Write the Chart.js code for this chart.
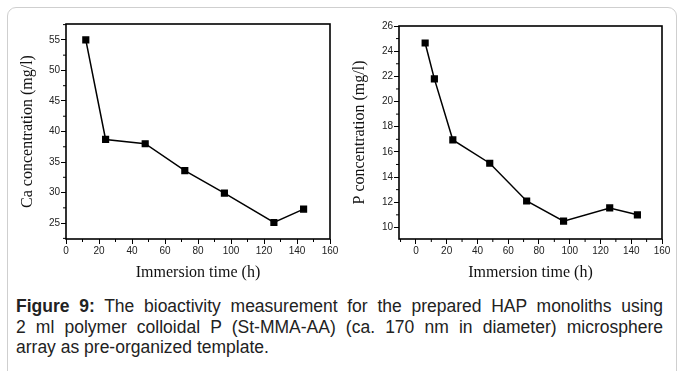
<!DOCTYPE html>
<html>
<head>
<meta charset="utf-8">
<script src="https://cdn.jsdelivr.net/npm/chart.js@4"></script>
<style>
  body { margin: 0; background: #fff; width: 681px; height: 371px; overflow: hidden; position: relative; }
  #panel { position: absolute; left: 7px; top: 7px; width: 668px; height: 372px; border: 1px solid #cfcfcf; border-radius: 9px; }
  #c1 { position: absolute; left: 0; top: 0; }
  #c2 { position: absolute; left: 340px; top: 0; }
  #caption { position: absolute; left: 16px; top: 296px; width: 647px; font: 17.5px "Liberation Sans", Arial, sans-serif;
             line-height: 20.7px; color: #222; }
  #caption div { white-space: nowrap; }
  #caption .j { text-align: justify; text-align-last: justify; }
</style>
</head>
<body>
<div id="panel"></div>
<canvas id="c1" width="340" height="290"></canvas>
<canvas id="c2" width="341" height="290"></canvas>
<div id="caption">
  <div class="j"><b>Figure 9:</b> The bioactivity measurement for the prepared HAP monoliths using</div>
  <div class="j">2 ml polymer colloidal P (St-MMA-AA) (ca. 170 nm in diameter) microsphere</div>
  <div>array as pre-organized template.</div>
</div>
<script>
// Ca panel
var timeCa = [12, 24, 48, 72, 96, 126, 144];
var caValues = [55, 38.7, 38, 33.6, 29.9, 25.1, 27.3];
var caYTicks = [25, 30, 35, 40, 45, 50, 55];
var caXTicks = [0, 20, 40, 60, 80, 100, 120, 140, 160];

// P panel
var timeP = [6, 12, 24, 48, 72, 96, 126, 144];
var pValues = [24.65, 21.8, 16.95, 15.1, 12.1, 10.5, 11.55, 11.0];
var pYTicks = [10, 12, 14, 16, 18, 20, 22, 24, 26];
var pXTicks = [0, 20, 40, 60, 80, 100, 120, 140, 160];

var serif = "'Liberation Serif', 'Times New Roman', serif";
var sans = "'Liberation Sans', Arial, sans-serif";

// frame + short minor ticks
var framePlugin = {
  id: 'frame',
  afterDraw: function (chart) {
    var ctx = chart.ctx, a = chart.chartArea;
    ctx.save();
    ctx.strokeStyle = '#000';
    ctx.lineWidth = 1;
    ['x', 'y'].forEach(function (id) {
      var s = chart.scales[id];
      var vals = s.ticks.map(function (t) { return t.value; });
      var step = vals[1] - vals[0];
      for (var v = vals[0] - step / 2; v <= s.max; v += step) {
        if (v < s.min) continue;
        var p = s.getPixelForValue(v);
        ctx.beginPath();
        if (id === 'x') { ctx.moveTo(p, a.bottom); ctx.lineTo(p, a.bottom + 3); }
        else { ctx.moveTo(a.left, p); ctx.lineTo(a.left - 3, p); }
        ctx.stroke();
      }
    });
    ctx.lineWidth = 1.6;
    ctx.strokeRect(a.left, a.top, a.right - a.left, a.bottom - a.top);
    ctx.restore();
  }
};

function makeChart(id, xs, ys, xTicks, yTicks, xMin, xMax, yMin, yMax, yTitle, pad, yWidth) {
  var pts = xs.map(function (x, i) { return {x: x, y: ys[i]}; });
  return new Chart(id, {
    type: 'scatter',
    data: {
      datasets: [{
        data: pts,
        showLine: true,
        borderColor: '#000',
        backgroundColor: '#000',
        borderWidth: 1.5,
        pointStyle: 'rect',
        pointRadius: 4,
        pointHoverRadius: 4
      }]
    },
    options: {
      responsive: false,
      animation: false,
      layout: {padding: pad},
      plugins: {legend: {display: false}, tooltip: {enabled: false}},
      scales: {
        x: {
          type: 'linear', min: xMin, max: xMax,
          afterBuildTicks: function (s) { s.ticks = xTicks.map(function (v) { return {value: v}; }); },
          afterFit: function (s) { s.height = 51; },
          grid: {drawOnChartArea: false, tickLength: 5, color: '#000'},
          border: {display: false},
          ticks: {padding: 1, color: '#222', font: {family: sans, size: 10}, maxRotation: 0},
          title: {display: true, text: 'Immersion time (h)', color: '#111', font: {family: serif, size: 16}, padding: {top: 0, bottom: 8}}
        },
        y: {
          type: 'linear', min: yMin, max: yMax,
          afterBuildTicks: function (s) { s.ticks = yTicks.map(function (v) { return {value: v}; }); },
          afterFit: function (s) { s.width = yWidth; },
          grid: {drawOnChartArea: false, tickLength: 5, color: '#000'},
          border: {display: false},
          ticks: {padding: 1, color: '#222', font: {family: sans, size: 10}},
          title: {display: true, text: yTitle, color: '#111', font: {family: serif, size: 16}, padding: 0}
        }
      }
    },
    plugins: [framePlugin]
  });
}

makeChart('c1', timeCa, caValues, caXTicks, caYTicks, 0, 160, 22.4, 57.6,
  'Ca concentration (mg/l)', {left: 18, right: 10, top: 24, bottom: 0}, 48);
makeChart('c2', timeP, pValues, pXTicks, pYTicks, -11, 160, 9.08, 26,
  'P concentration (mg/l)', {left: 10, right: 19, top: 26, bottom: 0}, 49);
</script>
</body>
</html>
